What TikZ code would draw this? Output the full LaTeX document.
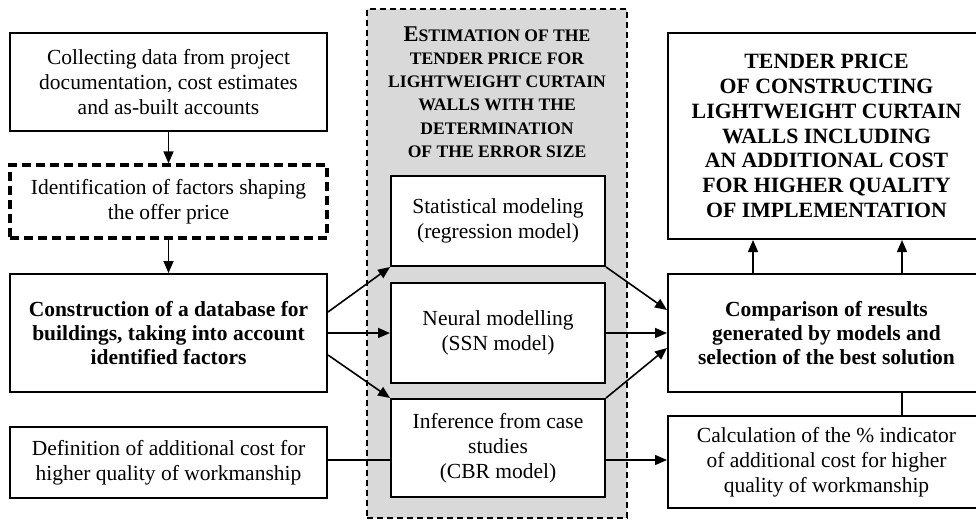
\documentclass[tikz,border=0pt]{standalone}
\usepackage{fontspec}
\setmainfont{Liberation Serif}
\usetikzlibrary{arrows.meta}
\begin{document}
\begin{tikzpicture}[x=1pt,y=-1pt,
 box/.style={draw, line width=2pt, fill=white, align=center, inner sep=0pt, font=\fontsize{21.5}{24.8}\selectfont},
 boldbox/.style={box, font=\bfseries\fontsize{21.5}{24}\selectfont},
 arr/.style={line width=1.6pt, -{Triangle[length=12pt,width=10pt]}},
 ln/.style={line width=1.6pt},
 panelstyle/.style={draw, dash pattern=on 6pt off 4pt, line width=1.4pt, fill=gray!30, inner sep=0pt}]
\useasboundingbox (0,0) rectangle (976,521);
\fill[white] (0,0) rectangle (976,521);
% central panel
\node[panelstyle, minimum width=260pt, minimum height=509pt] (panel) at (497,263.5) {};
\node[align=center, font=\bfseries\fontsize{17.6}{23.3}\selectfont] (title) at (497,92)
 {{\fontsize{22.5}{23.3}\selectfont E}STIMATION OF THE\\TENDER PRICE FOR\\LIGHTWEIGHT CURTAIN\\WALLS WITH THE\\DETERMINATION\\OF THE ERROR SIZE};
% left column
\node[box, minimum width=317pt, minimum height=98pt] (b1) at (168.5,82) {Collecting data from project\\documentation, cost estimates\\and as-built accounts};
\node[box, line width=3.2pt, dash pattern=on 9pt off 5pt, minimum width=317pt, minimum height=73pt] (b2) at (168.5,201.5) {Identification of factors shaping\\the offer price};
\node[boldbox, minimum width=317pt, minimum height=118pt] (b3) at (168.5,333) {Construction of a database for\\buildings, taking into account\\identified factors};
\node[box, minimum width=317pt, minimum height=71pt] (b4) at (168.5,462.5) {Definition of additional cost for\\higher quality of workmanship};
% models
\node[box, minimum width=214pt, minimum height=90pt] (stat) at (498,221) {Statistical modeling\\(regression model)};
\node[box, minimum width=214pt, minimum height=100pt] (neur) at (498,333) {Neural modelling\\(SSN model)};
\node[box, minimum width=214pt, minimum height=98pt] (inf) at (498,448) {Inference from case\\studies\\(CBR model)};
% right column
\node[box, font=\bfseries\fontsize{21.8}{24.8}\selectfont, minimum width=317pt, minimum height=206pt] (tend) at (826.5,136) {TENDER PRICE\\OF CONSTRUCTING\\LIGHTWEIGHT CURTAIN\\WALLS INCLUDING\\AN ADDITIONAL COST\\FOR HIGHER QUALITY\\OF IMPLEMENTATION};
\node[boldbox, minimum width=317pt, minimum height=118pt] (comp) at (826.5,333) {Comparison of results\\generated by models and\\selection of the best solution};
\node[box, minimum width=317pt, minimum height=92pt] (calc) at (826.5,462) {Calculation of the \% indicator\\of additional cost for higher\\quality of workmanship};
% connectors
\draw[arr] (b1.south) -- (b2.north);
\draw[arr] (b2.south) -- (b3.north);
\draw[arr] ([yshift=21pt]b3.east) -- (stat.south west);
\draw[arr] (b3.east) -- (neur.west);
\draw[arr] ([yshift=-22pt]b3.east) -- (inf.north west);
\draw[arr] (stat.south east) -- ([yshift=23pt]comp.west);
\draw[arr] (neur.east) -- (comp.west);
\draw[arr] (inf.north east) -- ([yshift=-15pt]comp.west);
\coordinate (d1) at ([yshift=2.5pt]b4.east);
\draw[ln] (d1) -- (d1 -| inf.west);
\coordinate (d2) at (inf.east |- d1);
\draw[arr] (d2) -- (d2 -| calc.west);
\draw[arr] ([xshift=-73.5pt]comp.north) -- ([xshift=-73.5pt]tend.south);
\draw[arr] ([xshift=75.5pt]comp.north) -- ([xshift=75.5pt]tend.south);
\draw[ln] ([xshift=75.5pt]comp.south) -- ([xshift=75.5pt]calc.north);
\end{tikzpicture}
\end{document}
